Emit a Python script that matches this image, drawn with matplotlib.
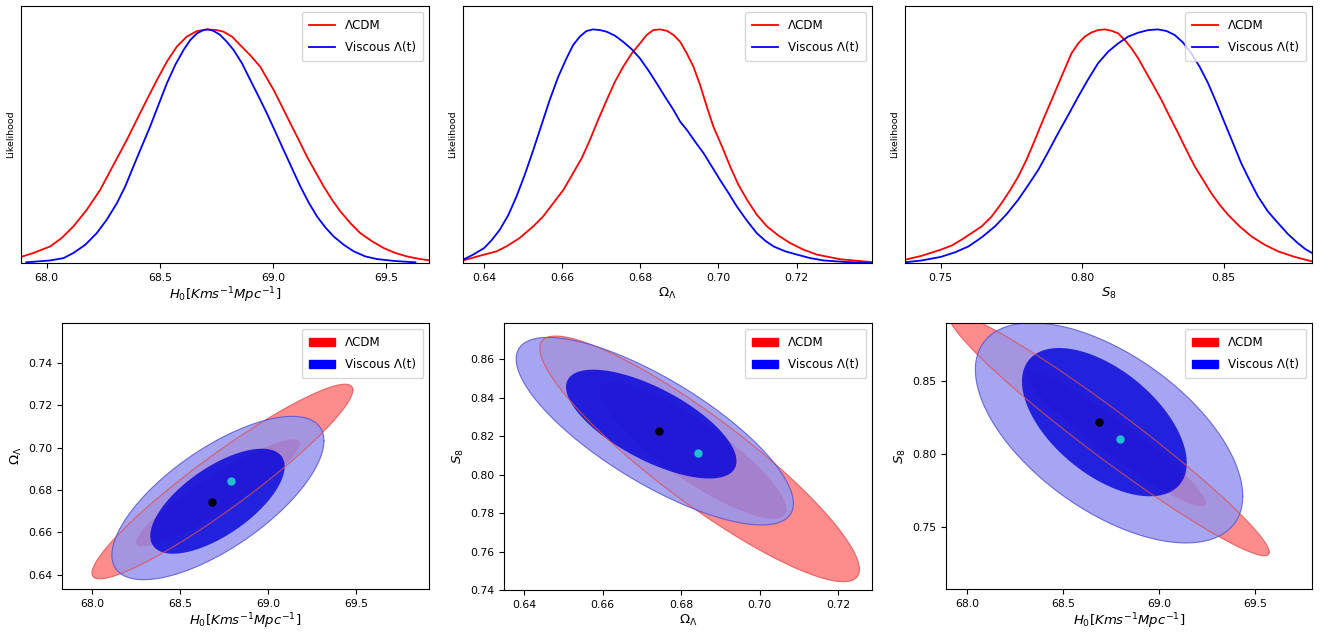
import numpy as np
import matplotlib
matplotlib.use('Agg')
import matplotlib.pyplot as plt
from matplotlib.patches import Patch

# ---- 1D likelihoods (peak normalised to 1) ----
h0_lcdm_x = [67.886, 67.941, 68.015, 68.066, 68.118, 68.177, 68.236, 68.295, 68.354, 68.398,
             68.442, 68.487, 68.531, 68.575, 68.619, 68.664, 68.711, 68.752, 68.782, 68.819,
             68.855, 68.900, 68.944, 68.973, 69.003, 69.040, 69.077, 69.114, 69.150, 69.187,
             69.224, 69.261, 69.298, 69.342, 69.386, 69.438, 69.490, 69.541, 69.593, 69.645,
             69.693]
h0_lcdm_y = [0.026, 0.043, 0.071, 0.107, 0.157, 0.228, 0.313, 0.420, 0.527, 0.613,
             0.698, 0.783, 0.862, 0.926, 0.969, 0.993, 1.000, 0.997, 0.990, 0.969,
             0.933, 0.889, 0.840, 0.791, 0.741, 0.670, 0.598, 0.527, 0.456, 0.392,
             0.328, 0.271, 0.221, 0.171, 0.128, 0.093, 0.064, 0.043, 0.028, 0.018,
             0.011]
h0_visc_x = [67.909, 68.015, 68.074, 68.118, 68.170, 68.221, 68.265, 68.310, 68.347, 68.383,
             68.420, 68.457, 68.494, 68.531, 68.568, 68.605, 68.634, 68.664, 68.693, 68.711,
             68.737, 68.767, 68.796, 68.826, 68.863, 68.900, 68.937, 68.973, 69.010, 69.047,
             69.084, 69.121, 69.158, 69.195, 69.232, 69.268, 69.313, 69.357, 69.409, 69.460,
             69.534, 69.630]
h0_visc_y = [0.003, 0.011, 0.021, 0.043, 0.078, 0.128, 0.185, 0.256, 0.328, 0.413,
             0.499, 0.584, 0.677, 0.769, 0.848, 0.912, 0.954, 0.983, 0.997, 1.000,
             0.994, 0.976, 0.947, 0.912, 0.855, 0.783, 0.712, 0.641, 0.563, 0.484,
             0.406, 0.328, 0.259, 0.199, 0.152, 0.114, 0.078, 0.050, 0.028, 0.017,
             0.009, 0.003]

om_lcdm_x = [0.6346, 0.6400, 0.6432, 0.6457, 0.6491, 0.6526, 0.6551, 0.6577, 0.6603, 0.6628,
             0.6650, 0.6671, 0.6692, 0.6714, 0.6735, 0.6756, 0.6778, 0.6799, 0.6816, 0.6833,
             0.6850, 0.6868, 0.6885, 0.6902, 0.6919, 0.6936, 0.6953, 0.6970, 0.6987, 0.7009,
             0.7030, 0.7051, 0.7073, 0.7098, 0.7124, 0.7154, 0.7184, 0.7218, 0.7252, 0.7312,
             0.7393]
om_lcdm_y = [0.011, 0.036, 0.050, 0.071, 0.107, 0.157, 0.199, 0.256, 0.313, 0.385,
             0.449, 0.527, 0.613, 0.698, 0.776, 0.840, 0.897, 0.940, 0.976, 0.997,
             1.000, 0.994, 0.976, 0.947, 0.897, 0.840, 0.762, 0.670, 0.584, 0.499,
             0.413, 0.335, 0.271, 0.207, 0.157, 0.117, 0.085, 0.057, 0.036, 0.016,
             0.004]
om_visc_x = [0.6346, 0.6372, 0.6400, 0.6419, 0.6440, 0.6462, 0.6483, 0.6504, 0.6526, 0.6547,
             0.6568, 0.6590, 0.6611, 0.6628, 0.6645, 0.6662, 0.6679, 0.6697, 0.6714, 0.6735,
             0.6756, 0.6778, 0.6799, 0.6820, 0.6842, 0.6863, 0.6885, 0.6902, 0.6919, 0.6940,
             0.6962, 0.6983, 0.7004, 0.7026, 0.7047, 0.7073, 0.7098, 0.7120, 0.7141, 0.7171,
             0.7201, 0.7235, 0.7269, 0.7329, 0.7393]
om_visc_y = [0.014, 0.036, 0.064, 0.097, 0.142, 0.205, 0.285, 0.377, 0.484, 0.591,
             0.698, 0.798, 0.876, 0.933, 0.969, 0.993, 1.000, 0.997, 0.990, 0.973,
             0.947, 0.915, 0.876, 0.826, 0.769, 0.712, 0.655, 0.605, 0.570, 0.520,
             0.470, 0.413, 0.356, 0.299, 0.242, 0.181, 0.128, 0.095, 0.071, 0.050,
             0.036, 0.021, 0.011, 0.004, 0.000]

s8_lcdm_x = [0.7374, 0.7433, 0.7500, 0.7539, 0.7574, 0.7609, 0.7645, 0.7680, 0.7715, 0.7745,
             0.7774, 0.7804, 0.7833, 0.7862, 0.7892, 0.7927, 0.7962, 0.7986, 0.8009, 0.8033,
             0.8056, 0.8080, 0.8104, 0.8127, 0.8151, 0.8174, 0.8198, 0.8221, 0.8251, 0.8280,
             0.8309, 0.8339, 0.8368, 0.8398, 0.8427, 0.8456, 0.8486, 0.8515, 0.8556, 0.8598,
             0.8645, 0.8692, 0.8751, 0.8812]
s8_lcdm_y = [0.014, 0.031, 0.057, 0.075, 0.100, 0.128, 0.157, 0.199, 0.256, 0.311,
             0.370, 0.444, 0.527, 0.613, 0.698, 0.798, 0.897, 0.940, 0.969, 0.987,
             0.997, 1.000, 0.994, 0.983, 0.954, 0.919, 0.876, 0.826, 0.762, 0.698,
             0.627, 0.556, 0.484, 0.413, 0.356, 0.299, 0.249, 0.207, 0.157, 0.114,
             0.078, 0.050, 0.026, 0.007]
s8_visc_x = [0.7374, 0.7433, 0.7500, 0.7551, 0.7598, 0.7645, 0.7692, 0.7733, 0.7774, 0.7809,
             0.7845, 0.7880, 0.7915, 0.7951, 0.7986, 0.8021, 0.8056, 0.8092, 0.8127, 0.8162,
             0.8198, 0.8233, 0.8268, 0.8298, 0.8327, 0.8356, 0.8386, 0.8415, 0.8445, 0.8474,
             0.8504, 0.8533, 0.8562, 0.8592, 0.8621, 0.8656, 0.8692, 0.8727, 0.8762, 0.8788,
             0.8812]
s8_visc_y = [0.003, 0.011, 0.026, 0.046, 0.071, 0.110, 0.157, 0.209, 0.271, 0.333,
             0.399, 0.476, 0.556, 0.634, 0.712, 0.786, 0.855, 0.905, 0.940, 0.969,
             0.986, 0.997, 1.000, 0.993, 0.976, 0.944, 0.897, 0.840, 0.769, 0.687,
             0.598, 0.513, 0.427, 0.353, 0.285, 0.221, 0.171, 0.124, 0.085, 0.060,
             0.043]

# ---- 2D contours (outer, inner): (centre x, centre y, half extent x, half extent y, correlation) ----
h0_om_lcdm = [(68.74, 0.684, 0.74, 0.046, 0.94), (68.715, 0.6786, 0.465, 0.0253, 0.92)]
h0_om_visc = [(68.7145, 0.6762, 0.6015, 0.0386, 0.70), (68.712, 0.6747, 0.381, 0.0248, 0.66)]
om_s8_lcdm = [(0.6847, 0.8082, 0.0407, 0.0639, -0.90), (0.683, 0.8126, 0.0238, 0.0356, -0.86)]
om_s8_visc = [(0.6733, 0.8226, 0.0353, 0.0488, -0.77), (0.6724, 0.8263, 0.0217, 0.0283, -0.68)]
h0_s8_lcdm = [(68.74, 0.8133, 0.834, 0.0833, -0.97), (68.77, 0.811, 0.4735, 0.047, -0.95)]
h0_s8_visc = [(68.739, 0.8145, 0.697, 0.0757, -0.575), (68.7145, 0.8219, 0.4295, 0.051, -0.55)]

# best-fit points (black, cyan)
h0_om_pts = [(68.679, 0.6743), (68.79, 0.6844)]
om_s8_pts = [(0.6744, 0.8226), (0.6842, 0.8113)]
h0_s8_pts = [(68.685, 0.8220), (68.794, 0.8103)]

labels = ['ΛCDM', 'Viscous Λ(t)']
h0_label = r'$H_0[Kms^{-1}Mpc^{-1}]$'
om_label = r'$\Omega_\Lambda$'
s8_label = r'$S_8$'

LEG = dict(loc='upper right', fontsize=8.6, labelspacing=0.75, borderpad=0.6,
           handlelength=2.2)


def ellipse_xy(cx, cy, ax_, ay_, rho, n=300):
    t = np.linspace(0, 2 * np.pi, n)
    x = cx + ax_ * np.cos(t)
    y = cy + ay_ * (rho * np.cos(t) + np.sqrt(1 - rho ** 2) * np.sin(t))
    return x, y


def plot_1d(ax, xr, yr, xb, yb, xlim, xticks, xlabel):
    ax.plot(xr, yr, color='red', lw=1.3, label=labels[0])
    ax.plot(xb, yb, color='blue', lw=1.3, label=labels[1])
    ax.set_xlim(*xlim)
    ax.set_ylim(0, 1.1)
    ax.set_yticks([])
    ax.set_xticks(xticks)
    ax.tick_params(labelsize=7.8)
    ax.set_xlabel(xlabel, fontsize=9.5, labelpad=2)
    ax.set_ylabel('Likelihood', fontsize=6.8, labelpad=4)
    ax.legend(**LEG)


def plot_2d(ax, lcdm, visc, pts, xlim, ylim, xticks, yticks, xlabel, ylabel):
    (r2, r1), (b2, b1) = lcdm, visc
    x, y = ellipse_xy(*r2)
    ax.fill(x, y, facecolor='red', alpha=0.45, lw=0)
    ax.plot(x, y, color='#e05050', lw=0.8, alpha=0.8)
    x, y = ellipse_xy(*r1)
    ax.fill(x, y, facecolor='red', alpha=0.92, lw=0)
    x, y = ellipse_xy(*b2)
    ax.fill(x, y, facecolor=(0.59, 0.59, 0.94), alpha=0.85, lw=0)
    ax.plot(x, y, color='#5050d0', lw=0.8, alpha=0.8)
    x, y = ellipse_xy(*b1)
    ax.fill(x, y, facecolor=(0.0, 0.0, 0.85), alpha=0.8, lw=0)
    ax.plot(pts[0][0], pts[0][1], 'o', color='black', ms=5, zorder=5)
    ax.plot(pts[1][0], pts[1][1], 'o', color='#20c0d0', ms=5, zorder=5)
    ax.set_xlim(*xlim)
    ax.set_ylim(*ylim)
    ax.set_xticks(xticks)
    ax.set_yticks(yticks)
    ax.tick_params(labelsize=7.8)
    ax.set_xlabel(xlabel, fontsize=9.5, labelpad=2)
    ax.set_ylabel(ylabel, fontsize=9.5, labelpad=3)
    handles = [Patch(color='red', label=labels[0]), Patch(color='blue', label=labels[1])]
    ax.legend(handles=handles, **LEG)


fig = plt.figure(figsize=(13.27, 6.35), dpi=100)

ax1 = fig.add_axes([0.0158, 0.5858, 0.3075, 0.4047])
ax2 = fig.add_axes([0.3489, 0.5858, 0.3082, 0.4047])
ax3 = fig.add_axes([0.6820, 0.5858, 0.3067, 0.4047])
ax4 = fig.add_axes([0.0467, 0.0724, 0.2766, 0.4189])
ax5 = fig.add_axes([0.3798, 0.0709, 0.2773, 0.4205])
ax6 = fig.add_axes([0.7129, 0.0724, 0.2758, 0.4189])

plot_1d(ax1, h0_lcdm_x, h0_lcdm_y, h0_visc_x, h0_visc_y, (67.886, 69.69),
        [68.0, 68.5, 69.0, 69.5], h0_label)
plot_1d(ax2, om_lcdm_x, om_lcdm_y, om_visc_x, om_visc_y, (0.6346, 0.7393),
        [0.64, 0.66, 0.68, 0.70, 0.72], om_label)
plot_1d(ax3, s8_lcdm_x, s8_lcdm_y, s8_visc_x, s8_visc_y, (0.7374, 0.8812),
        [0.75, 0.80, 0.85], s8_label)

plot_2d(ax4, h0_om_lcdm, h0_om_visc, h0_om_pts, (67.83, 69.912), (0.6332, 0.7589),
        [68.0, 68.5, 69.0, 69.5], [0.64, 0.66, 0.68, 0.70, 0.72, 0.74], h0_label, om_label)
plot_2d(ax5, om_s8_lcdm, om_s8_visc, om_s8_pts, (0.6349, 0.7286), (0.74, 0.8789),
        [0.64, 0.66, 0.68, 0.70, 0.72], [0.74, 0.76, 0.78, 0.80, 0.82, 0.84, 0.86],
        om_label, s8_label)
plot_2d(ax6, h0_s8_lcdm, h0_s8_visc, h0_s8_pts, (67.889, 69.797), (0.7071, 0.8901),
        [68.0, 68.5, 69.0, 69.5], [0.75, 0.80, 0.85], h0_label, s8_label)

fig.savefig('out.png', dpi=100)
